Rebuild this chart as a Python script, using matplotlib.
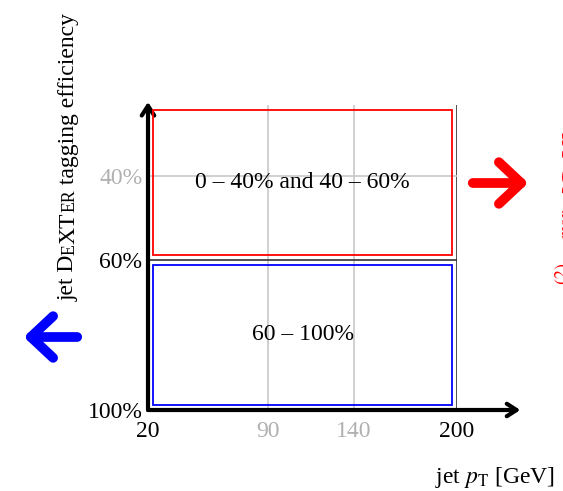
import numpy as np
import matplotlib
matplotlib.use('Agg')
import matplotlib.pyplot as plt
from matplotlib.patches import Rectangle, FancyArrowPatch
from matplotlib.transforms import IdentityTransform

plt.rcParams['font.family'] = ['Liberation Serif', 'DejaVu Serif']
plt.rcParams['mathtext.fontset'] = 'stix'

# ---- data ----
x_ticks = [20, 90, 140, 200]
x_tick_labels = ['20', '90', '140', '200']
x_tick_colors = ['black', '#b0b0b0', '#b0b0b0', 'black']
y_ticks = [40, 60, 100]
y_tick_labels = ['40%', '60%', '100%']
y_tick_colors = ['#b0b0b0', 'black', 'black']
region_low = [0, 60]
region_high = [60, 100]
region_colors = ['red', 'blue']
region_labels = ['0 – 40% and 40 – 60%', '60 – 100%']
pt_min, pt_max = 20, 200

# schematic (non-linear) efficiency axis
knots = [0, 40, 60, 100]
knot_pos = [-305, -234, -150, 0]
fwd = lambda e: np.interp(e, knots, knot_pos)
inv = lambda h: np.interp(h, knot_pos, knots)

W, H = 563, 491
fig = plt.figure(figsize=(W / 100, H / 100), dpi=100)
ax = fig.add_axes([148 / W, 1 - 410 / H, (457 - 148) / W, (410 - 105) / H])
ax.set_yscale('function', functions=(fwd, inv))
ax.set_xlim(pt_min, pt_max)
ax.set_ylim(100, 0)
for s in ax.spines.values():
    s.set_visible(False)

FS = 17
ax.set_xticks(x_ticks)
ax.set_xticklabels(x_tick_labels, fontsize=FS)
for lab, c in zip(ax.get_xticklabels(), x_tick_colors):
    lab.set_color(c)
ax.set_yticks(y_ticks)
ax.set_yticklabels(y_tick_labels, fontsize=FS)
for lab, c in zip(ax.get_yticklabels(), y_tick_colors):
    lab.set_color(c)
ax.tick_params(axis='x', length=0, pad=8)
ax.tick_params(axis='y', length=0, pad=4)
ax.minorticks_off()

# grid lines
for xv, c in zip(x_ticks[1:], ['#c8c8c8', '#c8c8c8', '#333333']):
    ax.axvline(xv, color=c, lw=1.2, zorder=1)
for yv, c in zip(y_ticks[:2], ['#c8c8c8', '#333333']):
    ax.axhline(yv, color=c, lw=1.2, zorder=1)

# axis arrows
for xy in [(1.205, 0), (0, 1.01)]:
    ax.annotate('', xy=xy, xytext=(0, 0), xycoords='axes fraction',
                arrowprops=dict(arrowstyle='->,head_length=0.7,head_width=0.45', lw=3,
                                color='black', shrinkA=0, shrinkB=0),
                annotation_clip=False, zorder=5)

# region boxes (inset) and labels
fig.canvas.draw()
inset = 5
for lo, hi, c, lab in zip(region_low, region_high, region_colors, region_labels):
    x0, y0 = ax.transData.transform((pt_min, hi))
    x1, y1 = ax.transData.transform((pt_max, lo))
    r = Rectangle((x0 + inset, y0 + inset), (x1 - x0) - 2 * inset, (y1 - y0) - 2 * inset,
                  fill=False, edgecolor=c, lw=1.3, transform=IdentityTransform(), zorder=3)
    fig.add_artist(r)
    ymid = inv((fwd(lo) + fwd(hi)) / 2)
    ax.text((pt_min + pt_max) / 2, ymid, lab, fontsize=FS, ha='center', va='center', zorder=4)

# x label
fig.text(555 / W, 1 - 483 / H, r'jet $p_{\mathrm{T}}$ [GeV]', fontsize=FS, ha='right', va='baseline')

# y label with small caps DeXTer
renderer = fig.canvas.get_renderer()
pieces = [('jet D', FS), ('E', FS * 0.75), ('XT', FS), ('ER', FS * 0.75), (' tagging efficiency', FS)]
xb, yb = 74, H - 301
for txt, sz in pieces:
    t = fig.text(xb, yb, txt, fontsize=sz, rotation=90, rotation_mode='anchor',
                 ha='left', va='baseline', transform=IdentityTransform())
    bb = t.get_window_extent(renderer)
    yb += bb.height

# right (clipped) label
fig.text(553 / W, 1 - 302 / H, r'$E_{\mathrm{T},\,1}^{(2)}\ \ \ {}^{\mathrm{max}}$  [GeV]', color='red',
         fontsize=FS + 1, rotation=90, ha='left', va='bottom')

# big colored arrows
fig.add_artist(FancyArrowPatch(
    (80 / W, 1 - 337 / H), (21 / W, 1 - 337 / H), transform=fig.transFigure,
    arrowstyle='->,head_length=0.8,head_width=0.75', mutation_scale=20, lw=7,
    color='blue', capstyle='round', joinstyle='round'))
fig.add_artist(FancyArrowPatch(
    (470 / W, 1 - 183 / H), (531 / W, 1 - 183 / H), transform=fig.transFigure,
    arrowstyle='->,head_length=0.8,head_width=0.75', mutation_scale=20, lw=7,
    color='red', capstyle='round', joinstyle='round'))

fig.savefig('out.png', dpi=100)
